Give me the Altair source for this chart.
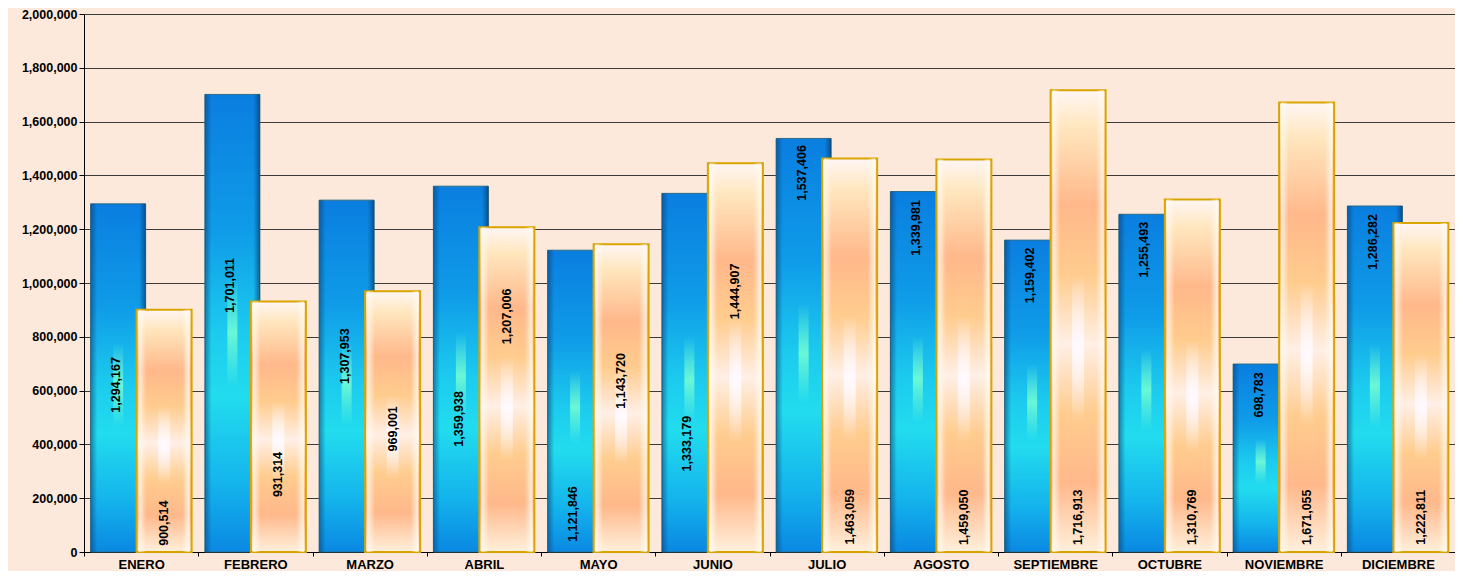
import altair as alt
import pandas as pd

# ---- data ----
months = ["ENERO", "FEBRERO", "MARZO", "ABRIL", "MAYO", "JUNIO", "JULIO",
          "AGOSTO", "SEPTIEMBRE", "OCTUBRE", "NOVIEMBRE", "DICIEMBRE"]
serie_a = [1294167, 1701011, 1307953, 1359938, 1121846, 1333179, 1537406,
           1339981, 1159402, 1255493, 698783, 1286282]
serie_b = [900514, 931314, 969001, 1207006, 1143720, 1444907, 1463059,
           1459050, 1716913, 1310769, 1671055, 1222811]
# where each value label sits (in data units)
label_a = [621000, 991000, 728000, 495000, 141000, 403000, 1409000,
           1205000, 1028000, 1124000, 584000, 1153000]
label_b = [107000, 288000, 458000, 876000, 636000, 969000, 131000,
           129000, 129000, 129000, 129000, 129000]
y_ticks = [0, 200000, 400000, 600000, 800000, 1000000, 1200000, 1400000,
           1600000, 1800000, 2000000]

df = pd.DataFrame({
    "mes": months,
    "a": serie_a,
    "b": serie_b,
    "la": label_a,
    "lb": label_b,
})
df["ta"] = [f"{v:,}" for v in serie_a]
df["tb"] = [f"{v:,}" for v in serie_b]

BAR_W = 55
OFF = 23

blue_grad = {
    "gradient": "linear", "x1": 0, "y1": 0, "x2": 0, "y2": 1,
    "stops": [
        {"offset": 0.0, "color": "#0a7ee0"},
        {"offset": 0.3, "color": "#0f9ce8"},
        {"offset": 0.52, "color": "#1ccbee"},
        {"offset": 0.66, "color": "#22dcee"},
        {"offset": 0.85, "color": "#14b4ec"},
        {"offset": 1.0, "color": "#0a88e2"},
    ],
}
blue_edge = {
    "gradient": "linear", "x1": 0, "y1": 0, "x2": 1, "y2": 0,
    "stops": [
        {"offset": 0.0, "color": "rgba(10,60,110,0.55)"},
        {"offset": 0.12, "color": "rgba(10,60,110,0)"},
        {"offset": 0.88, "color": "rgba(10,60,110,0)"},
        {"offset": 1.0, "color": "rgba(10,40,80,0.6)"},
    ],
}
blue_glow = {
    "gradient": "linear", "x1": 0, "y1": 0, "x2": 0, "y2": 1,
    "stops": [
        {"offset": 0.0, "color": "rgba(120,255,210,0)"},
        {"offset": 0.4, "color": "rgba(120,255,210,0)"},
        {"offset": 0.52, "color": "rgba(120,255,210,0.85)"},
        {"offset": 0.64, "color": "rgba(120,255,210,0)"},
        {"offset": 1.0, "color": "rgba(120,255,210,0)"},
    ],
}
orange_grad = {
    "gradient": "linear", "x1": 0, "y1": 0, "x2": 0, "y2": 1,
    "stops": [
        {"offset": 0.0, "color": "#fff6f4"},
        {"offset": 0.08, "color": "#ffe6be"},
        {"offset": 0.25, "color": "#ffb88a"},
        {"offset": 0.4, "color": "#ffcc8e"},
        {"offset": 0.55, "color": "#ffefe6"},
        {"offset": 0.7, "color": "#ffcc8e"},
        {"offset": 0.85, "color": "#ffb88a"},
        {"offset": 1.0, "color": "#fff0dc"},
    ],
}
orange_edge = {
    "gradient": "linear", "x1": 0, "y1": 0, "x2": 1, "y2": 0,
    "stops": [
        {"offset": 0.0, "color": "rgba(255,250,240,0.85)"},
        {"offset": 0.15, "color": "rgba(255,250,240,0)"},
        {"offset": 0.85, "color": "rgba(255,250,240,0)"},
        {"offset": 1.0, "color": "rgba(255,250,240,0.85)"},
    ],
}
orange_glow = {
    "gradient": "linear", "x1": 0, "y1": 0, "x2": 0, "y2": 1,
    "stops": [
        {"offset": 0.0, "color": "rgba(255,250,255,0)"},
        {"offset": 0.4, "color": "rgba(255,250,255,0)"},
        {"offset": 0.56, "color": "rgba(255,250,255,0.95)"},
        {"offset": 0.72, "color": "rgba(255,250,255,0)"},
        {"offset": 1.0, "color": "rgba(255,250,255,0)"},
    ],
}

x_enc = alt.X(
    "mes:N", sort=months, title=None,
    scale=alt.Scale(paddingInner=0, paddingOuter=0),
    axis=alt.Axis(labelAngle=0, tickBand="extent", labelFontSize=13,
                  labelFontWeight="bold", labelColor="#000000",
                  domainColor="#000000", tickColor="#000000",
                  tickSize=4, labelPadding=2, grid=False),
)
y_scale = alt.Scale(domain=[0, 2000000], nice=False)
y_axis = alt.Axis(values=y_ticks, labelExpr="format(datum.value, ',')",
                  labelFontSize=12.5, labelFontWeight="bold",
                  labelColor="#000000", domainColor="#000000",
                  tickColor="#000000", tickSize=5, labelPadding=2,
                  gridColor="#3a3a3a", gridWidth=1.2, grid=True)


def Y(field):
    return alt.Y(field, scale=y_scale, axis=y_axis, title=None)


base = alt.Chart(df).encode(x=x_enc)

blue = base.mark_bar(width=BAR_W, xOffset=-OFF, color=blue_grad,
                     stroke="#2e6e86", strokeWidth=1).encode(y=Y("a:Q"))
blue_e = base.mark_bar(width=BAR_W, xOffset=-OFF, color=blue_edge).encode(y=Y("a:Q"))
blue_g = base.mark_bar(width=10, xOffset=-OFF, color=blue_glow).encode(y=Y("a:Q"))

orange = base.mark_bar(width=BAR_W, xOffset=OFF, color=orange_grad,
                       stroke="#d9a400", strokeWidth=2).encode(y=Y("b:Q"))
orange_e = base.mark_bar(width=BAR_W - 4, xOffset=OFF, color=orange_edge).encode(y=Y("b:Q"))
orange_g = base.mark_bar(width=12, xOffset=OFF, color=orange_glow).encode(y=Y("b:Q"))

txt_a = base.mark_text(angle=270, font="Liberation Sans", fontSize=12.5,
                       fontWeight="bold", color="#000000", align="center",
                       baseline="middle", xOffset=-OFF - 2).encode(
    y=Y("la:Q"), text="ta:N")
txt_b = base.mark_text(angle=270, font="Liberation Sans", fontSize=12.5,
                       fontWeight="bold", color="#000000", align="center",
                       baseline="middle", xOffset=OFF).encode(
    y=Y("lb:Q"), text="tb:N")

chart = alt.layer(blue, blue_e, blue_g, orange, orange_e, orange_g,
                  txt_a, txt_b).properties(
    width=1371, height=538,
    autosize=alt.AutoSizeParams(type="none"),
    padding={"left": 76, "top": 6, "right": 0, "bottom": 19},
    background="#fce9db",
).configure_view(stroke=None).configure_axis(
    labelFont="Liberation Sans")

chart.save("out.html", embed_options={"renderer": "svg", "actions": False})
